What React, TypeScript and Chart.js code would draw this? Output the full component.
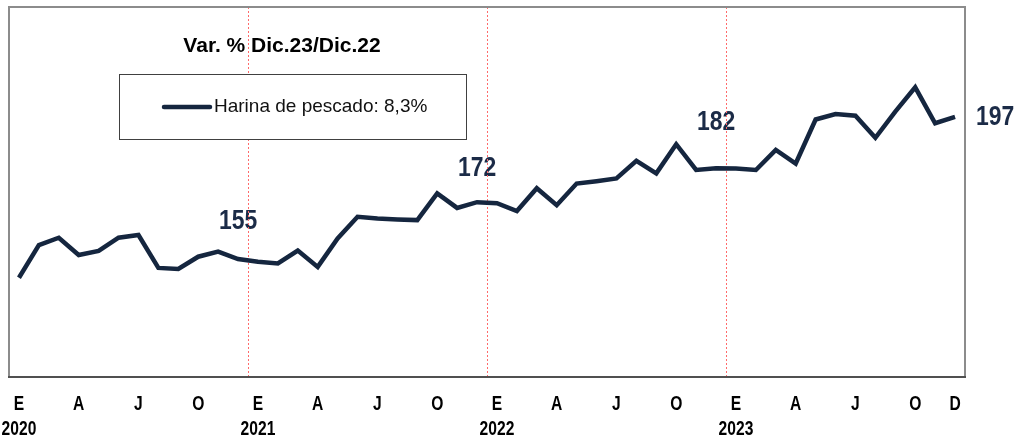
import React, { useEffect, useRef } from "react";
import { Chart, registerables } from "chart.js";

Chart.register(...registerables);

const MONTHS = ["E", "F", "M", "A", "M", "J", "J", "A", "S", "O", "N", "D"];
const YEARS = ["2020", "2021", "2022", "2023"];
const SERIES_NAME = "Harina de pescado: 8,3%";
const TITLE = "Var. % Dic.23/Dic.22";
const VALUES = [
  149.5, 159.1, 161.3, 156.2, 157.4, 161.3, 162.1, 152.4, 152.1, 155.7, 157.2, 155.0,
  154.2, 153.7, 157.5, 152.7, 161.1, 167.5, 167.0, 166.7, 166.5, 174.4, 170.1, 171.8,
  171.5, 169.2, 175.9, 170.9, 177.3, 178.0, 178.8, 184.0, 180.3, 188.9, 181.3, 181.8,
  181.7, 181.3, 187.2, 183.2, 196.2, 197.8, 197.3, 190.8, 198.5, 205.7, 195.1, 197.0,
];
const LABELLED_POINTS = [11, 23, 35, 47];
const Y_MIN = 120.2;
const Y_MAX = 229.4;

const LINE_COLOR = "#15263f";
const SANS = "'Liberation Sans', Arial, sans-serif";

const CATEGORIES: string[] = [];
YEARS.forEach((y) => MONTHS.forEach((m) => CATEGORIES.push(`${m} ${y}`)));

function narrowText(ctx: any, txt: string, x: number, y: number, align: string, sx: number) {
  ctx.save();
  ctx.translate(x, y);
  ctx.scale(sx, 1);
  ctx.textAlign = align;
  ctx.fillText(txt, 0, 0);
  ctx.restore();
}

const decorPlugin = {
  id: "decor",
  beforeDatasetsDraw(chart: any) {
    const { ctx, chartArea } = chart;
    const xs = chart.scales.x;
    const meta = chart.getDatasetMeta(0);
    ctx.save();
    // value annotations
    ctx.fillStyle = "#1b2b47";
    ctx.font = `bold 27px ${SANS}`;
    ctx.textBaseline = "middle";
    LABELLED_POINTS.forEach((i, k) => {
      const pt = meta.data[i];
      const txt = String(Math.round(VALUES[i]));
      if (k === LABELLED_POINTS.length - 1) {
        narrowText(ctx, txt, pt.x + 21, pt.y + 1, "left", 0.85);
      } else {
        const dy = k === 0 ? -38 : k === 1 ? -34 : -46;
        narrowText(ctx, txt, pt.x, pt.y + dy, "center", 0.85);
      }
    });
    // year separators
    ctx.strokeStyle = "#ff6a6a";
    ctx.lineWidth = 1;
    ctx.setLineDash([2, 2]);
    for (let i = 12; i < CATEGORIES.length; i += 12) {
      const x = Math.round((xs.getPixelForValue(i - 1) + xs.getPixelForValue(i)) / 2) + 0.5;
      ctx.beginPath();
      ctx.moveTo(x, chartArea.top);
      ctx.lineTo(x, chartArea.bottom);
      ctx.stroke();
    }
    ctx.setLineDash([]);
    // frame
    ctx.strokeStyle = "#8c8c8c";
    ctx.lineWidth = 2;
    ctx.beginPath();
    ctx.moveTo(chartArea.left, chartArea.bottom);
    ctx.lineTo(chartArea.left, chartArea.top);
    ctx.lineTo(chartArea.right, chartArea.top);
    ctx.lineTo(chartArea.right, chartArea.bottom);
    ctx.stroke();
    ctx.strokeStyle = "#505050";
    ctx.beginPath();
    ctx.moveTo(chartArea.left - 1, chartArea.bottom);
    ctx.lineTo(chartArea.right + 1, chartArea.bottom);
    ctx.stroke();
    // x tick labels
    ctx.fillStyle = "#000";
    ctx.font = `bold 20px ${SANS}`;
    ctx.textBaseline = "middle";
    for (let i = 0; i < CATEGORIES.length; i++) {
      const m = i % 12;
      const show = m % 3 === 0 || i === CATEGORIES.length - 1;
      if (!show) continue;
      const x = xs.getPixelForValue(i);
      narrowText(ctx, MONTHS[m], x, chartArea.bottom + 27, "center", 0.78);
      if (m === 0) narrowText(ctx, YEARS[Math.floor(i / 12)], x, chartArea.bottom + 52, "center", 0.78);
    }
    ctx.restore();
  },
  afterDatasetsDraw(chart: any) {
    const { ctx } = chart;
    ctx.save();
    // title
    ctx.fillStyle = "#000";
    ctx.font = `bold 21px ${SANS}`;
    ctx.textAlign = "center";
    ctx.textBaseline = "middle";
    ctx.fillText(TITLE, 282, 46);
    // legend box
    ctx.fillStyle = "#fff";
    ctx.fillRect(119, 74, 347, 66);
    ctx.strokeStyle = "#404040";
    ctx.lineWidth = 1;
    ctx.strokeRect(119.5, 74.5, 347, 65);
    ctx.strokeStyle = LINE_COLOR;
    ctx.lineWidth = 4.5;
    ctx.lineCap = "round";
    ctx.beginPath();
    ctx.moveTo(164, 107);
    ctx.lineTo(210, 107);
    ctx.stroke();
    ctx.fillStyle = "#111";
    ctx.font = `19px ${SANS}`;
    ctx.textAlign = "left";
    ctx.fillText(SERIES_NAME, 214, 107);
    ctx.restore();
  },
};

export default function App() {
  const ref = useRef<HTMLCanvasElement | null>(null);
  useEffect(() => {
    if (!ref.current) return;
    const chart = new Chart(ref.current, {
      type: "line",
      data: {
        labels: CATEGORIES,
        datasets: [
          {
            label: SERIES_NAME,
            data: VALUES,
            borderColor: LINE_COLOR,
            borderWidth: 4.5,
            pointRadius: 0,
            tension: 0,
            fill: false,
            borderJoinStyle: "miter",
          },
        ],
      },
      options: {
        animation: false,
        responsive: true,
        maintainAspectRatio: false,
        layout: { padding: { left: 9, top: 7, right: 53, bottom: 0 } },
        plugins: {
          legend: { display: false },
          title: { display: false },
          tooltip: { enabled: false },
        },
        scales: {
          x: {
            type: "category",
            offset: true,
            grid: { display: false, drawTicks: false },
            border: { display: false },
            ticks: { display: false },
            afterFit: (scale: any) => {
              scale.height = 64;
              scale.paddingLeft = 0;
              scale.paddingRight = 0;
            },
          },
          y: {
            display: false,
            min: Y_MIN,
            max: Y_MAX,
          },
        },
      },
      plugins: [decorPlugin],
    } as any);
    return () => chart.destroy();
  }, []);
  return (
    <div style={{ position: "fixed", left: 0, top: 0, width: 1018, height: 441, background: "#fff" }}>
      <canvas ref={ref} style={{ display: "block" }} />
    </div>
  );
}
